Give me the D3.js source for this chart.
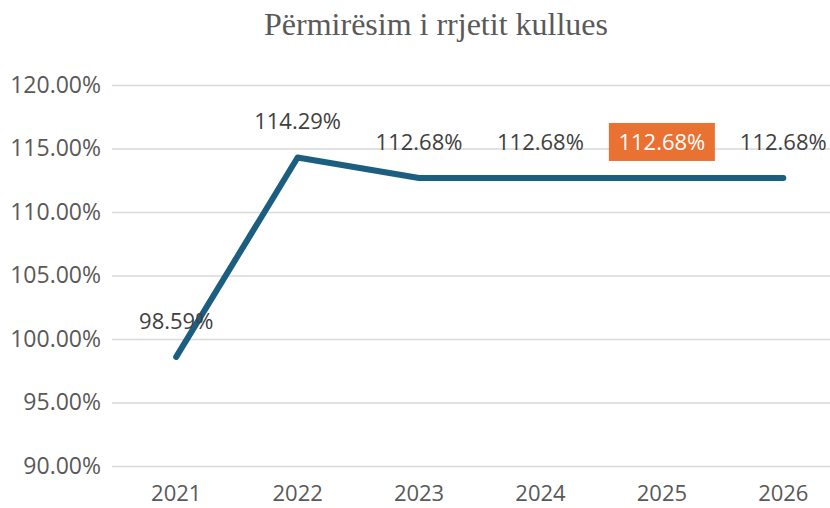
<!DOCTYPE html>
<html><head><meta charset="utf-8">
<script src="https://cdn.jsdelivr.net/npm/d3@7"></script>
<style>body{margin:0;background:#fff}</style>
</head><body>
<svg id="c" width="830" height="508"></svg>
<script>
const title = "Përmirësim i rrjetit kullues";
const categories = ["2021","2022","2023","2024","2025","2026"];
const values = [98.59, 114.29, 112.68, 112.68, 112.68, 112.68];
const yTicks = [90, 95, 100, 105, 110, 115, 120];
const highlighted = ["2025"];

const svg = d3.select("#c");
const font = "'Open Sans', 'Noto Sans', sans-serif";
const x = d3.scaleBand().domain(categories).range([115.5, 844]);
const y = d3.scaleLinear().domain([90, 120]).range([466, 85]);

svg.append("text").attr("x", 436).attr("y", 35).attr("text-anchor", "middle")
  .attr("font-family", "'Liberation Serif','Times New Roman',serif").attr("font-size", 32)
  .attr("fill", "#595959").text(title);

const grid = svg.append("g").attr("transform", "translate(112,0)")
  .call(d3.axisLeft(y).tickValues(yTicks).tickSize(-720).tickFormat(d => d.toFixed(2) + "%"));
grid.select(".domain").remove();
grid.selectAll(".tick line").attr("stroke", "#d9d9d9").attr("stroke-width", 1.5);
grid.selectAll(".tick text").attr("x", -11).attr("fill", "#595959")
  .attr("font-family", font).attr("font-size", 23);

const xa = svg.append("g").attr("transform", "translate(0,466)")
  .call(d3.axisBottom(x).tickSize(0));
xa.select(".domain").remove();
xa.selectAll(".tick text").attr("dy", 0).attr("y", 35).attr("fill", "#595959")
  .attr("font-family", font).attr("font-size", 22);

const cx = d => x(d) + x.bandwidth() / 2;
const line = d3.line().x((d, i) => cx(categories[i])).y(d => y(d));
svg.append("path").datum(values).attr("d", line).attr("fill", "none")
  .attr("stroke", "#1b5e80").attr("stroke-width", 6)
  .attr("stroke-linecap", "round").attr("stroke-linejoin", "round");

const lbl = svg.append("g").selectAll("g").data(values).join("g")
  .attr("transform", (d, i) => `translate(${cx(categories[i])},${y(d) - 36})`);
lbl.filter((d, i) => highlighted.includes(categories[i])).append("rect")
  .attr("x", -53).attr("y", -19).attr("width", 106).attr("height", 38).attr("fill", "#e97132");
lbl.append("text").attr("text-anchor", "middle").attr("dy", "0.35em")
  .attr("font-family", font).attr("font-size", 22)
  .attr("fill", (d, i) => highlighted.includes(categories[i]) ? "#ffffff" : "#404040")
  .text(d => d.toFixed(2) + "%");
</script>
</body></html>
